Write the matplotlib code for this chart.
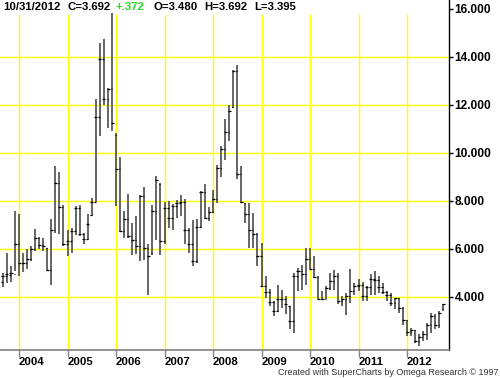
import matplotlib
matplotlib.use("Agg")
from matplotlib import pyplot as plt

# monthly OHLC, Sep 2003 .. Oct 2012
opens = [4.60, 4.85, 4.90, 4.95, 6.20, 5.40, 5.40, 5.57, 5.96, 6.44, 6.15, 6.03,
         5.10, 6.79, 8.72, 7.74, 6.17, 6.33, 6.72, 7.70, 6.61, 6.40, 7.40, 7.95,
         11.49, 13.90, 12.25, 12.63, 10.75, 9.33, 6.72, 7.24, 6.54, 6.37, 6.12, 8.18,
         6.03, 5.80, 7.55, 8.70, 6.30, 7.67, 7.28, 7.76, 7.88, 7.93, 6.79, 6.20,
         5.47, 6.90, 8.35, 7.28, 7.51, 8.07, 9.36, 10.13, 10.85, 11.90, 13.39, 9.11,
         7.88, 7.45, 6.79, 6.60, 5.68, 4.43, 4.18, 3.78, 3.39, 3.88, 3.88, 3.60,
         2.97, 4.85, 5.05, 4.92, 5.57, 5.13, 4.82, 3.90, 3.90, 4.36, 4.64, 4.85,
         3.80, 3.88, 4.04, 4.22, 4.43, 4.46, 4.04, 4.40, 4.71, 4.68, 4.40, 4.18,
         4.08, 3.72, 3.92, 3.53, 3.02, 2.52, 2.60, 2.14, 2.30, 2.44, 2.80, 3.20,
         2.80, 3.48]
highs = [5.00, 5.82, 5.26, 7.55, 7.44, 5.82, 5.96, 6.10, 6.83, 6.49, 6.44, 6.03,
         7.24, 9.46, 9.20, 7.83, 6.79, 6.86, 7.76, 7.83, 6.65, 7.42, 8.11, 12.24,
         14.57, 14.74, 12.70, 15.80, 10.82, 9.80, 7.55, 8.28, 7.07, 7.35, 8.25, 8.55,
         6.17, 7.83, 9.04, 8.75, 7.93, 7.97, 7.86, 8.04, 8.22, 8.07, 6.86, 7.17,
         7.21, 8.39, 8.67, 7.74, 8.46, 9.50, 10.26, 11.38, 12.00, 13.46, 13.63, 9.46,
         7.90, 7.88, 7.49, 6.65, 6.24, 4.85, 4.32, 3.80, 4.50, 4.29, 4.01, 3.60,
         4.99, 5.20, 5.33, 6.03, 6.03, 5.68, 4.85, 4.22, 4.43, 4.99, 5.10, 4.99,
         4.01, 4.15, 5.13, 4.57, 4.71, 4.60, 4.45, 4.92, 5.05, 4.85, 4.57, 4.22,
         4.15, 3.95, 3.95, 3.55, 3.04, 2.70, 2.62, 2.42, 2.55, 2.90, 3.32, 3.25,
         3.39, 3.692]
lows = [4.40, 4.57, 4.60, 5.05, 4.85, 5.01, 5.13, 5.47, 5.90, 5.96, 5.89, 5.05,
        4.50, 6.65, 6.60, 6.12, 5.70, 5.82, 6.58, 6.51, 6.17, 6.37, 7.35, 7.95,
        10.68, 12.00, 11.03, 10.90, 7.76, 6.70, 6.44, 6.44, 5.75, 5.79, 5.47, 5.54,
        4.08, 5.75, 6.37, 5.71, 6.17, 6.86, 6.79, 7.28, 7.35, 6.17, 5.82, 5.26,
        5.40, 6.85, 7.21, 7.14, 7.49, 7.90, 9.00, 9.71, 10.47, 11.86, 8.88, 7.90,
        7.07, 6.03, 6.03, 5.26, 4.40, 3.95, 3.60, 3.18, 3.35, 3.53, 3.25, 2.63,
        2.49, 4.22, 4.29, 4.50, 5.13, 4.78, 3.88, 3.85, 3.88, 4.29, 4.29, 3.67,
        3.60, 3.21, 3.74, 4.08, 4.22, 3.80, 3.80, 4.08, 4.08, 4.15, 4.10, 3.80,
        3.60, 3.46, 3.32, 2.83, 2.35, 2.35, 2.07, 1.93, 2.14, 2.20, 2.49, 2.63,
        2.70, 3.395]
closes = [4.85, 4.92, 4.96, 6.19, 5.40, 5.40, 5.57, 5.96, 6.44, 6.15, 6.10, 5.10,
          6.79, 8.72, 7.74, 6.17, 6.33, 6.72, 7.70, 6.61, 6.40, 7.03, 7.95, 11.49,
          13.90, 12.25, 12.63, 11.24, 9.33, 6.72, 7.24, 6.54, 6.37, 6.12, 8.18, 6.03,
          5.68, 7.55, 8.85, 6.30, 7.67, 7.28, 7.76, 7.88, 7.93, 6.79, 6.20, 5.47,
          6.89, 8.35, 7.28, 7.51, 8.07, 9.36, 10.13, 10.85, 11.72, 13.39, 9.11, 7.93,
          7.45, 6.79, 6.60, 5.68, 4.43, 4.18, 3.78, 3.39, 3.88, 3.88, 3.67, 2.97,
          4.85, 5.05, 4.92, 5.57, 5.13, 4.82, 3.90, 3.90, 4.36, 4.64, 4.85, 3.80,
          3.88, 4.04, 4.22, 4.43, 4.46, 4.04, 4.40, 4.71, 4.68, 4.40, 4.18, 4.08,
          3.72, 3.92, 3.53, 3.02, 2.52, 2.60, 2.14, 2.30, 2.44, 2.80, 3.20, 2.80,
          3.32, 3.692]

years = ["2004", "2005", "2006", "2007", "2008", "2009", "2010", "2011", "2012"]
year_start = [4, 16, 28, 40, 52, 64, 76, 88, 100]   # index of January bar
price_ticks = [4, 6, 8, 10, 12, 14, 16]
grid_prices = [4, 6, 8, 10, 12, 14]

header = [("10/31/2012", "black"), ("C=3.692", "black"), ("+.372", "#22dd22"),
          ("O=3.480", "black"), ("H=3.692", "black"), ("L=3.395", "black")]
header_x = [3, 68, 116, 154, 204, 254]   # pixels

W, H = 500, 378
fig = plt.figure(figsize=(W / 100, H / 100), dpi=100, facecolor="white")
ax = fig.add_axes([0, 28 / H, 449 / W, 350 / H])
ax.set_xlim(-0.70, 110.38)
ax.set_ylim(1.77, 16.36)

# grid
for p in grid_prices:
    ax.axhline(p, color="#ffff00", lw=1.0, zorder=0)
for i in year_start:
    ax.axvline(i, ymax=(15.73 - 1.77) / (16.36 - 1.77), color="#ffff00", lw=1.0, zorder=0)

x = list(range(len(closes)))
ax.vlines(x, lows, highs, color="#3c3c3c", lw=1.1, zorder=2)
ax.hlines(opens, [i - 0.35 for i in x], x, color="black", lw=0.9, zorder=3)
ax.hlines(closes, [i - 0.35 for i in x], [i + 0.4 for i in x], color="black", lw=0.9, zorder=3)

for s in ["top", "left"]:
    ax.spines[s].set_visible(False)
ax.spines["right"].set_color("black")
ax.spines["right"].set_linewidth(1.0)
ax.spines["bottom"].set_color("#808080")
ax.spines["bottom"].set_linewidth(1.2)

ax.yaxis.tick_right()
ax.set_yticks(price_ticks, [f"{p:.3f}" for p in price_ticks])
ax.tick_params(axis="y", direction="out", length=3, width=1, color="black", pad=1,
               labelsize=8.6)
ax.set_xticks(year_start, years)
ax.tick_params(axis="x", direction="out", length=5, width=1, color="#808080", pad=0,
               labelsize=8.2)
for lbl in ax.get_xticklabels() + ax.get_yticklabels():
    lbl.set_fontweight("bold")
    lbl.set_fontfamily("Liberation Sans")
for lbl in ax.get_xticklabels():
    lbl.set_horizontalalignment("left")

for (txt, col), px in zip(header, header_x):
    fig.text(px / W, 1 - 7.5 / H, txt, color=col, fontsize=8.2, fontweight="bold",
             family="Liberation Sans", ha="left", va="center")

fig.text(498 / W, 1 - 372.5 / H, "Created with SuperCharts by Omega Research \u00a9 1997",
         color="#333333", fontsize=6.5, family="Liberation Sans", ha="right", va="center")

fig.savefig("out.png", dpi=100, facecolor="white")
